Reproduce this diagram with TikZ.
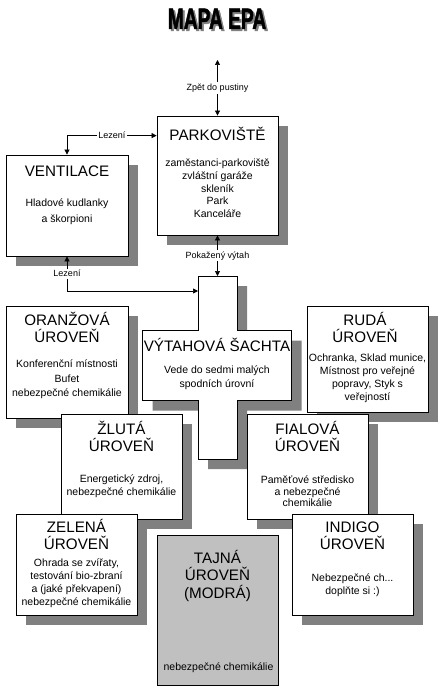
\documentclass[tikz,border=0pt]{standalone}
\usepackage{fontspec}
\setmainfont{Liberation Sans}
\newfontfamily\mapheadfont[FakeStretch=0.65,FakeBold=1.6]{Liberation Sans}
\usetikzlibrary{arrows.meta,calc,positioning,shadows}
\definecolor{ShadowGrey}{HTML}{808080}
\definecolor{SecretGrey}{HTML}{C0C0C0}
\tikzset{
  room/.style={draw=black,line width=.8pt,fill=white,inner sep=0pt,
    drop shadow={shadow xshift=10pt,shadow yshift=-10pt,fill=ShadowGrey,opacity=1}},
  secretroom/.style={draw=black,line width=.8pt,fill=SecretGrey,inner sep=0pt},
  shaftwall/.style={draw=black,line width=.8pt,fill=white,
    drop shadow={shadow xshift=10pt,shadow yshift=-10pt,fill=ShadowGrey,opacity=1}},
  roomtitle/.style={font=\fontsize{15.2}{17}\selectfont,align=center,inner sep=0pt,anchor=base},
  roomtext/.style={font=\fontsize{10.5}{12.9}\selectfont,align=center,inner sep=0pt,anchor=base},
  maptitle/.style={font=\mapheadfont\bfseries\fontsize{29.5}{30}\selectfont,inner sep=0pt,anchor=base},
  link/.style={{Triangle[length=5pt,width=5pt]}-{Triangle[length=5pt,width=5pt]},line width=.7pt},
  linklabel/.style={font=\fontsize{9}{9}\selectfont,fill=white,inner sep=1.5pt}
}
\begin{document}
\begin{tikzpicture}[x=1pt,y=-1pt]
  \useasboundingbox (0,0) rectangle (444,698);
  \node[maptitle,text=ShadowGrey] (headshadow) at (219,31) {MAPA EPA};
  \node[maptitle] (head) at (217,29) {MAPA EPA};

  % text nodes sit on the baseline of their last line
  \node[room,minimum width=122pt,minimum height=101pt] (vent) at (67,205.5) {};
  \node[roomtitle] (venttitle) at (67,176.7) {VENTILACE};
  \node[roomtext,font=\fontsize{10.5}{16.3}\selectfont] (venttext) at (67,222.7) {Hladové kudlanky\\a škorpioni};

  \node[room,minimum width=121pt,minimum height=119pt] (park) at (217.5,175.5) {};
  \node[roomtitle] (parktitle) at (217.5,140) {PARKOVIŠTĚ};
  \node[roomtext,font=\fontsize{10.5}{12.75}\selectfont] (parktext) at (217.5,217.7)
    {zaměstanci-parkoviště\\zvláštní garáže\\skleník\\Park\\Kanceláře};

  \node[room,minimum width=122pt,minimum height=112pt] (orange) at (67,362) {};
  \node[roomtitle] (orangetitle) at (67,342) {ORANŽOVÁ\\ÚROVEŇ};
  \node[roomtext,font=\fontsize{10.5}{14.5}\selectfont] (orangetext) at (67,396.7)
    {Konferenční místnosti\\Bufet\\nebezpečné chemikálie};

  \coordinate (shafttop) at (217.5,276);
  \coordinate (shaftleft) at (198,291);
  \draw[shaftwall] (198,276) -- (237,276) -- (237,330.5) -- (291.5,330.5) -- (291.5,400.5)
    -- (237,400.5) -- (237,459) -- (198,459) -- (198,400.5) -- (142.5,400.5)
    -- (142.5,330.5) -- (198,330.5) -- cycle;
  \node[roomtitle] (shafttitle) at (217,351.7) {VÝTAHOVÁ ŠACHTA};
  \node[roomtext,font=\fontsize{10.5}{14}\selectfont] (shafttext) at (217,387.7)
    {Vede do sedmi malých\\spodních úrovní};

  \node[room,minimum width=121pt,minimum height=106pt] (red) at (367.5,359) {};
  \node[roomtitle] (redtitle) at (365,342) {RUDÁ\\ÚROVEŇ};
  \node[roomtext] (redtext) at (367.5,400.4)
    {Ochranka, Sklad munice,\\Místnost pro veřejné\\popravy, Styk s\\veřejností};

  \node[room,minimum width=121pt,minimum height=105pt] (yellow) at (121.5,466.5) {};
  \node[roomtitle] (yellowtitle) at (121.5,451.5) {ŽLUTÁ\\ÚROVEŇ};
  \node[roomtext,font=\fontsize{10.5}{13}\selectfont] (yellowtext) at (121.5,495.7)
    {Energetický zdroj,\\nebezpečné chemikálie};

  \node[room,minimum width=121pt,minimum height=105pt] (violet) at (307.5,466.5) {};
  \node[roomtitle] (violettitle) at (307.5,451.5) {FIALOVÁ\\ÚROVEŇ};
  \node[roomtext,font=\fontsize{10.5}{11.6}\selectfont] (violettext) at (307.5,506.6)
    {Paměťové středisko\\a nebezpečné\\chemikálie};

  \node[room,minimum width=121pt,minimum height=101pt] (green) at (76.5,564.5) {};
  \node[roomtitle] (greentitle) at (76.5,549.5) {ZELENÁ\\ÚROVEŇ};
  \node[roomtext] (greentext) at (76.5,605.4)
    {Ohrada se zvířaty,\\testování bio-zbraní\\a (jaké překvapení)\\nebezpečné chemikálie};

  \node[room,minimum width=121pt,minimum height=101pt] (indigo) at (352.5,564.5) {};
  \node[roomtitle] (indigotitle) at (352.5,549.5) {INDIGO\\ÚROVEŇ};
  \node[roomtext,font=\fontsize{10.5}{12.7}\selectfont] (indigotext) at (352.5,594.4)
    {Nebezpečné ch...\\doplňte si :)};

  \node[secretroom,minimum width=121pt,minimum height=150pt] (secret) at (217.5,610) {};
  \node[roomtitle,font=\fontsize{15.2}{17.5}\selectfont] (secrettitle) at (217.5,598)
    {TAJNÁ\\ÚROVEŇ\\(MODRÁ)};
  \node[roomtext] (secrettext) at (218.5,670.4) {nebezpečné chemikálie};

  \coordinate (desert) at (217.5,60);
  \draw[link] (desert) -- (park.north) node[linklabel,midway] (desertlabel) {Zpět do pustiny};
  \draw[link] (vent.north) |- ([yshift=-20pt]park.north west)
    node[linklabel,pos=.75] (climbuplabel) {Lezení};
  \draw[link] (park.south) -- (shafttop) node[linklabel,midway] (liftlabel) {Pokažený výtah};
  \draw[link] (vent.south) |- (shaftleft) node[linklabel,pos=.25] (climbdownlabel) {Lezení};
\end{tikzpicture}
\end{document}
